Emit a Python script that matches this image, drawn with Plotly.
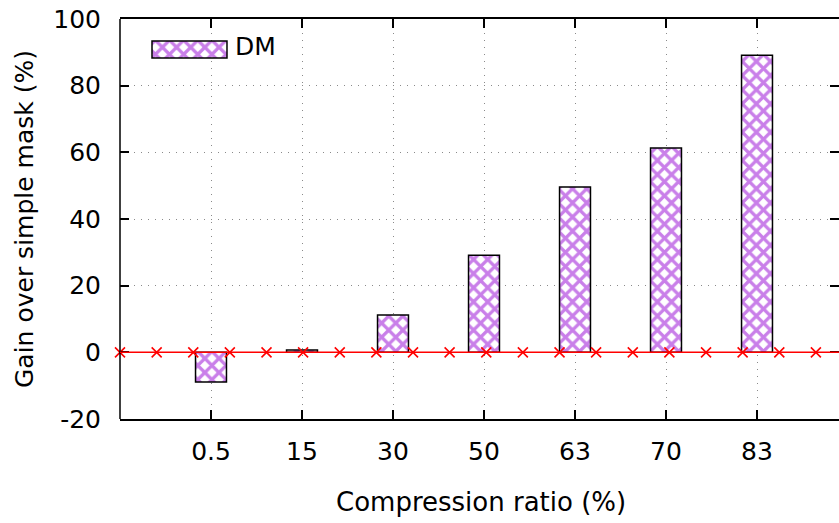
import plotly.graph_objects as go

# ---- data ----
categories = ["0.5", "15", "30", "50", "63", "70", "83"]
gain_dm = [-8.9, 0.7, 11.2, 29.1, 49.6, 61.3, 89.1]
series_name = "DM"
y_tick_vals = [-20, 0, 20, 40, 60, 80, 100]
y_tick_text = ["-20", "0", "20", "40", "60", "80", "100"]
# reference line y = 0 (sampled points shown as crosses)
ref_x = [-1.0, -0.597, -0.195, 0.207, 0.610, 1.012, 1.415, 1.817, 2.220, 2.622,
         3.025, 3.427, 3.830, 4.232, 4.635, 5.037, 5.440, 5.842, 6.245, 6.647]
ref_y = [0] * len(ref_x)

FONT = "DejaVu Sans, Verdana, sans-serif"
PURPLE = "#9400d3"
PATTERN = dict(shape="x", fgcolor=PURPLE, bgcolor="white", size=10,
               solidity=0.55, fillmode="overlay")

cat_pos = list(range(len(categories)))

fig = go.Figure()

fig.add_trace(go.Bar(
    x=cat_pos, y=gain_dm, width=0.34, name=series_name, showlegend=False,
    marker=dict(color="white", line=dict(color="black", width=1.5), pattern=PATTERN),
))

fig.add_trace(go.Scatter(
    x=ref_x, y=ref_y, mode="markers", showlegend=False, cliponaxis=False,
    marker=dict(symbol="x-thin", size=10, line=dict(color="red", width=1.6), color="red"),
))

# legend swatch drawn on an overlay axis (paper-like 0..1 range)
fig.add_trace(go.Bar(
    y=[0.924], x=[0.1043], base=[0.0445], width=0.0425, orientation="h",
    xaxis="x2", yaxis="y2", showlegend=False, hoverinfo="skip",
    marker=dict(color="white", line=dict(color="black", width=1.5), pattern=PATTERN),
))

GRID = dict(showgrid=True, gridcolor="#8a8a8a", griddash="1px,6px", gridwidth=1)

fig.update_layout(
    width=839, height=523,
    margin=dict(l=120, r=0, t=19, b=104),
    paper_bgcolor="white", plot_bgcolor="white",
    font=dict(family=FONT, size=25, color="black"),
    barmode="overlay",
    showlegend=False,
    xaxis=dict(
        range=[-1, 6.901], tickvals=cat_pos, ticktext=categories,
        showline=True, linecolor="black", linewidth=1.5, mirror="ticks",
        ticks="inside", ticklen=9, tickwidth=1.5, tickcolor="black",
        ticklabelstandoff=9, zeroline=False, tickfont=dict(size=25), **GRID,
    ),
    yaxis=dict(
        range=[-20, 100], tickvals=y_tick_vals, ticktext=y_tick_text,
        showline=False, mirror="ticks",
        ticks="inside", ticklen=9, tickwidth=1.5, tickcolor="black",
        ticklabelstandoff=18, zeroline=False, tickfont=dict(size=25), **GRID,
    ),
    xaxis2=dict(overlaying="x", range=[0, 1], visible=False),
    yaxis2=dict(overlaying="y", range=[0, 1], visible=False),
    shapes=[
        dict(type="line", xref="paper", yref="paper", x0=0, x1=0, y0=0, y1=1,
             line=dict(color="black", width=1.5)),
        dict(type="line", xref="paper", yref="y", x0=0, x1=1, y0=0, y1=0,
             line=dict(color="red", width=1.5), layer="above"),
    ],
    annotations=[
        dict(text="Compression ratio (%)", xref="paper", yref="paper",
             x=0.502, y=-0.208, xanchor="center", yanchor="middle",
             showarrow=False, font=dict(size=26)),
        dict(text="Gain over simple mask (%)", xref="paper", yref="paper",
             x=-0.1335, y=0.5, xanchor="center", yanchor="middle", textangle=-90,
             showarrow=False, font=dict(size=25)),
        dict(text=series_name, xref="paper", yref="paper",
             x=0.157, y=0.93, xanchor="left", yanchor="middle",
             showarrow=False, font=dict(size=25)),
    ],
)

fig.write_html(
    "out.html",
    config={"displayModeBar": False},
    post_script="document.body.style.margin='0';document.body.style.overflow='hidden';",
)
